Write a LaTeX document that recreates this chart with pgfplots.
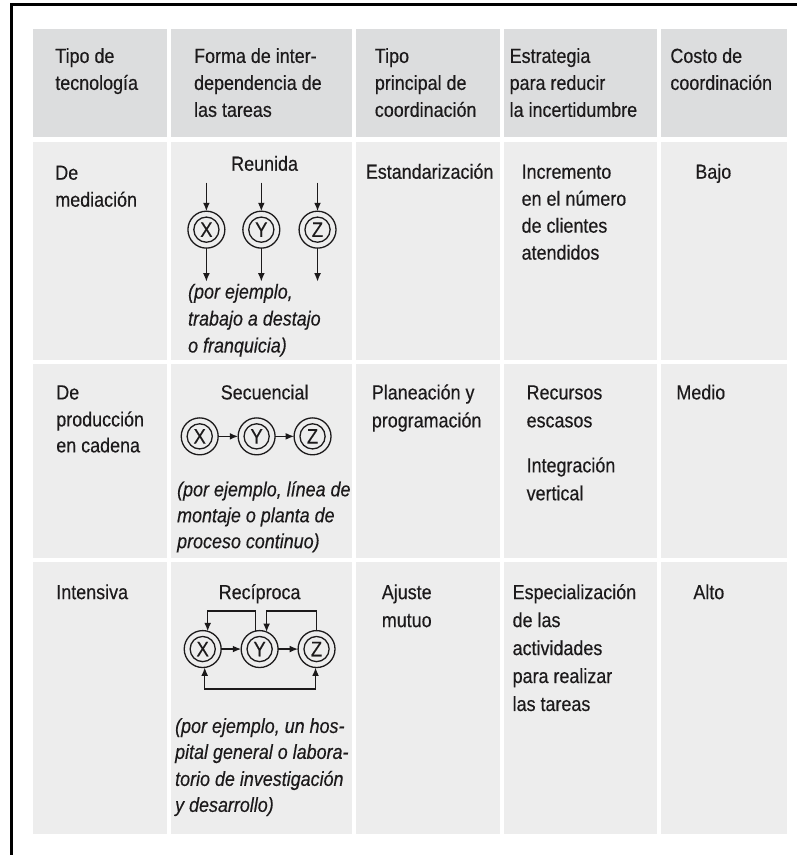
\documentclass[border=0pt]{standalone}
\usepackage{fontspec}
\setmainfont[FakeStretch=0.88,FakeBold=0.35]{Liberation Sans}
\usepackage{pgfplots}
\pgfplotsset{compat=1.18}
\usetikzlibrary{arrows.meta}
\definecolor{hdr}{RGB}{220,221,222}
\definecolor{bodyc}{RGB}{237,237,237}
\definecolor{ink}{RGB}{28,26,27}
\tikzset{
  t/.style={anchor=base west, inner sep=0pt, text=ink, font=\fontsize{10.2}{12}\selectfont},
  tc/.style={anchor=base, inner sep=0pt, text=ink, font=\fontsize{10.2}{12}\selectfont},
  ti/.style={anchor=base west, inner sep=0pt, text=ink, font=\fontsize{10.2}{12}\selectfont\itshape},
  ar/.style={draw=ink, line width=0.65pt, -{Latex[length=4.2pt,width=3.4pt]}},
  arr/.style={draw=ink, line width=0.65pt, {Latex[length=4.2pt,width=3.4pt]}-{Latex[length=4.2pt,width=3.4pt]}},
  ln/.style={draw=ink, line width=0.65pt},
}
\newcommand\cc[3]{%
  \draw[ln] (axis cs:#1,#2) circle[radius=9.25pt];
  \draw[ln] (axis cs:#1,#2) circle[radius=6.3pt];
  \node[anchor=center, inner sep=0pt, text=ink, font=\fontsize{10.5}{11}\selectfont] at (axis cs:#1,#2) {#3};
}
\begin{document}
\begin{tikzpicture}
\begin{axis}[scale only axis, width=399pt, height=428pt,
  xmin=0, xmax=798, ymin=0, ymax=856, y dir=reverse,
  hide axis, clip=false]
\path (axis cs:0,0) rectangle (axis cs:798,856);
% frame
\addplot[black, line width=1.25pt, mark=none] coordinates {(11.5,856) (11.5,4.3) (798,4.3)};
% header cells
\fill[hdr] (axis cs:33,29) rectangle (axis cs:167,137);
\fill[hdr] (axis cs:171,29) rectangle (axis cs:353,137);
\fill[hdr] (axis cs:357,29) rectangle (axis cs:501,137);
\fill[hdr] (axis cs:505,29) rectangle (axis cs:658,137);
\fill[hdr] (axis cs:662,29) rectangle (axis cs:788,137);
% body rows
\fill[bodyc] (axis cs:33,142) rectangle (axis cs:167,361);
\fill[bodyc] (axis cs:171,142) rectangle (axis cs:353,361);
\fill[bodyc] (axis cs:357,142) rectangle (axis cs:501,361);
\fill[bodyc] (axis cs:505,142) rectangle (axis cs:658,361);
\fill[bodyc] (axis cs:662,142) rectangle (axis cs:788,361);
\fill[bodyc] (axis cs:33,365) rectangle (axis cs:167,559);
\fill[bodyc] (axis cs:171,365) rectangle (axis cs:353,559);
\fill[bodyc] (axis cs:357,365) rectangle (axis cs:501,559);
\fill[bodyc] (axis cs:505,365) rectangle (axis cs:658,559);
\fill[bodyc] (axis cs:662,365) rectangle (axis cs:788,559);
\fill[bodyc] (axis cs:33,563) rectangle (axis cs:167,835);
\fill[bodyc] (axis cs:171,563) rectangle (axis cs:353,835);
\fill[bodyc] (axis cs:357,563) rectangle (axis cs:501,835);
\fill[bodyc] (axis cs:505,563) rectangle (axis cs:658,835);
\fill[bodyc] (axis cs:662,563) rectangle (axis cs:788,835);
% header text
\node[t] at (axis cs:55,63) {Tipo de};
\node[t] at (axis cs:55,90) {tecnología};
\node[t] at (axis cs:194,63) {Forma de inter-};
\node[t] at (axis cs:194,90) {dependencia de};
\node[t] at (axis cs:194,117) {las tareas};
\node[t] at (axis cs:375,63) {Tipo};
\node[t] at (axis cs:375,90) {principal de};
\node[t] at (axis cs:375,117) {coordinación};
\node[t] at (axis cs:510,63) {Estrategia};
\node[t] at (axis cs:510,90) {para reducir};
\node[t] at (axis cs:510,117) {la incertidumbre};
\node[t] at (axis cs:671,63) {Costo de};
\node[t] at (axis cs:671,90) {coordinación};
% row 1
\node[t] at (axis cs:55,180) {De};
\node[t] at (axis cs:55,207) {mediación};
\node[tc] at (axis cs:265,171) {Reunida};
\node[ti] at (axis cs:188,299) {(por ejemplo,};
\node[ti] at (axis cs:188,326) {trabajo a destajo};
\node[ti] at (axis cs:188,353) {o franquicia)};
\node[t] at (axis cs:366,179) {Estandarización};
\node[t] at (axis cs:522,179) {Incremento};
\node[t] at (axis cs:522,206) {en el número};
\node[t] at (axis cs:522,233) {de clientes};
\node[t] at (axis cs:522,260) {atendidos};
\node[t] at (axis cs:696,179) {Bajo};
\cc{206.7}{230}{X}
\cc{261.7}{230}{Y}
\cc{318}{230}{Z}
\draw[ar] (axis cs:206.7,183) -- (axis cs:206.7,211.5);
\draw[ar] (axis cs:261.7,183) -- (axis cs:261.7,211.5);
\draw[ar] (axis cs:318,183) -- (axis cs:318,211.5);
\draw[ar] (axis cs:206.7,248.5) -- (axis cs:206.7,282);
\draw[ar] (axis cs:261.7,248.5) -- (axis cs:261.7,282);
\draw[ar] (axis cs:318,248.5) -- (axis cs:318,282);
% row 2
\node[t] at (axis cs:56,400) {De};
\node[t] at (axis cs:56,427) {producción};
\node[t] at (axis cs:56,453) {en cadena};
\node[tc] at (axis cs:265,400) {Secuencial};
\cc{200}{437}{X}
\cc{257}{437}{Y}
\cc{313}{437}{Z}
\draw[ar] (axis cs:218.5,437) -- (axis cs:238.5,437);
\draw[ar] (axis cs:275.5,437) -- (axis cs:294.5,437);
\node[ti] at (axis cs:177,497) {(por ejemplo, línea de};
\node[ti] at (axis cs:177,523) {montaje o planta de};
\node[ti] at (axis cs:177,549) {proceso continuo)};
\node[t] at (axis cs:372,400) {Planeación y};
\node[t] at (axis cs:372,428) {programación};
\node[t] at (axis cs:527,400) {Recursos};
\node[t] at (axis cs:527,428) {escasos};
\node[t] at (axis cs:527,473) {Integración};
\node[t] at (axis cs:527,501) {vertical};
\node[t] at (axis cs:677,400) {Medio};
% row 3
\node[t] at (axis cs:56,600) {Intensiva};
\node[tc] at (axis cs:260,600) {Recíproca};
\cc{203}{650}{X}
\cc{260}{650}{Y}
\cc{317}{650}{Z}
\draw[ar] (axis cs:221.5,650) -- (axis cs:241.5,650);
\draw[ar] (axis cs:278.5,650) -- (axis cs:298.5,650);
\draw[ar] (axis cs:255.7,632) -- (axis cs:255.7,612) -- (axis cs:208,612) -- (axis cs:208,632.2);
\draw[ar] (axis cs:317,631.5) -- (axis cs:317,612) -- (axis cs:267,612) -- (axis cs:267,632.9);
\draw[arr] (axis cs:205,668.4) -- (axis cs:205,690) -- (axis cs:316,690) -- (axis cs:316,668.5);
\node[ti] at (axis cs:175,734) {(por ejemplo, un hos-};
\node[ti] at (axis cs:175,760) {pital general o labora-};
\node[ti] at (axis cs:175,787) {torio de investigación};
\node[ti] at (axis cs:175,813) {y desarrollo)};
\node[t] at (axis cs:382,600) {Ajuste};
\node[t] at (axis cs:382,628) {mutuo};
\node[t] at (axis cs:513,600) {Especialización};
\node[t] at (axis cs:513,628) {de las};
\node[t] at (axis cs:513,656) {actividades};
\node[t] at (axis cs:513,684) {para realizar};
\node[t] at (axis cs:513,712) {las tareas};
\node[t] at (axis cs:694,600) {Alto};
\end{axis}
\end{tikzpicture}
\end{document}
